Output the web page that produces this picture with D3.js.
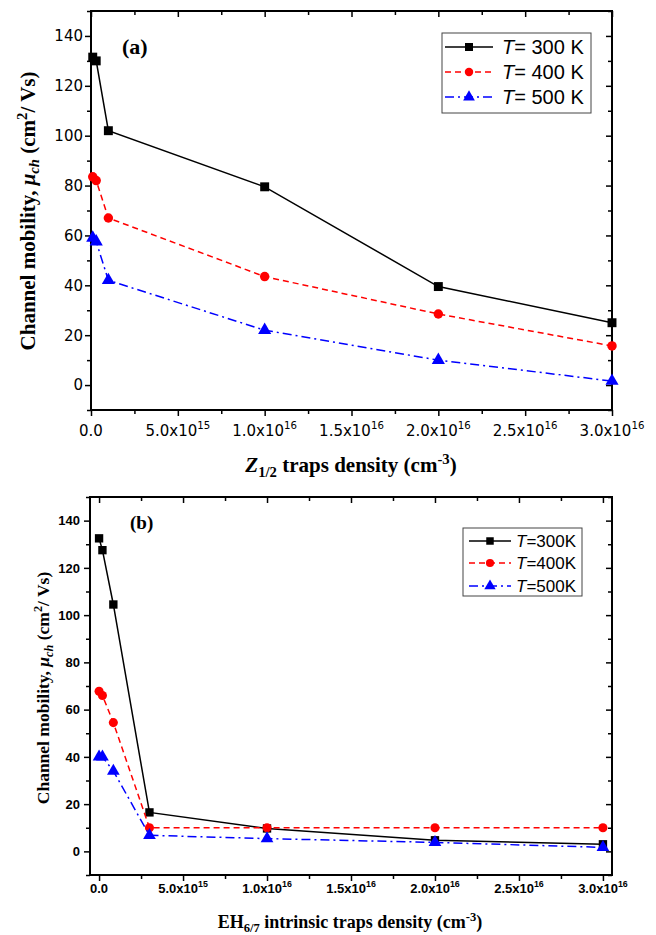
<!DOCTYPE html>
<html>
<head>
<meta charset="utf-8">
<script src="https://cdn.jsdelivr.net/npm/d3@7"></script>
<style>
  body { margin: 0; background: #fff; }
</style>
</head>
<body>
<svg id="fig" width="656" height="935"></svg>
<script>
// panel (a) : Z1/2 traps density
var xA = [1e14, 3e14, 1e15, 1e16, 2e16, 3e16];
var a300 = [131.5, 130, 102, 79.5, 39.5, 25];
var a400 = [83.5, 82, 67, 43.5, 28.5, 15.7];
var a500 = [59, 57.5, 42, 22, 10, 1.6];

// panel (b) : EH6/7 intrinsic traps density
var xB = [0, 2e14, 8.5e14, 3e15, 1e16, 2e16, 3e16];
var b300 = [132.5, 127.5, 104.5, 16.5, 9.7, 4.7, 3];
var b400 = [67.8, 66, 54.5, 10, 10, 10, 10];
var b500 = [40, 40, 34, 6.8, 5.4, 3.8, 1.7];

var xTicks = [0, 5e15, 1e16, 1.5e16, 2e16, 2.5e16, 3e16];
var yTicks = [0, 20, 40, 60, 80, 100, 120, 140];
var legendA = ["= 300 K", "= 400 K", "= 500 K"];
var legendB = ["=300K", "=400K", "=500K"];

var colors = ["#000", "#f00", "#00f"];
var symbols = [d3.symbolSquare, d3.symbolCircle, d3.symbolTriangle];
var dashes = [null, "6,4", "9,4,2,4"];

var svg = d3.select("#fig");

function drawPanel(p) {
    var x = d3.scaleLinear().domain(p.xDomain).range([p.left, p.right]);
    var y = d3.scaleLinear().domain([-10, 150]).range([p.bottom, p.top]);
    var g = svg.append("g");

    // minor ticks are midpoints of the majors
    var minorX = xTicks.slice(1).map((v, i) => (v + xTicks[i]) / 2);
    var minorY = [-10].concat(yTicks.map(v => v + 10));

    function tickAxis(axis, tr, vals, size) {
        var a = g.append("g")
            .attr("transform", tr)
            .call(axis.tickValues(vals).tickSize(size).tickFormat(""));
        a.select(".domain").remove();
        a.selectAll("line").attr("stroke-width", 1.5);
    }
    tickAxis(d3.axisBottom(x), `translate(0,${p.bottom})`, xTicks, 6);
    tickAxis(d3.axisBottom(x), `translate(0,${p.bottom})`, minorX, 4);
    tickAxis(d3.axisTop(x), `translate(0,${p.top})`, xTicks, -6);
    tickAxis(d3.axisTop(x), `translate(0,${p.top})`, minorX, -4);
    tickAxis(d3.axisLeft(y), `translate(${p.left},0)`, yTicks, 6);
    tickAxis(d3.axisLeft(y), `translate(${p.left},0)`, minorY, 4);
    tickAxis(d3.axisRight(y), `translate(${p.right},0)`, yTicks, -6);
    tickAxis(d3.axisRight(y), `translate(${p.right},0)`, minorY, -4);

    // frame
    g.append("rect")
        .attr("x", p.left).attr("y", p.top)
        .attr("width", p.right - p.left).attr("height", p.bottom - p.top)
        .attr("fill", "none").attr("stroke", "#000").attr("stroke-width", 2);

    // y tick labels
    g.selectAll(".ylab").data(yTicks).enter().append("text")
        .attr("x", p.left - p.yLabPad)
        .attr("y", d => y(d))
        .attr("dy", "0.36em")
        .attr("text-anchor", "end")
        .attr("font-family", p.tickFont).attr("font-size", p.tickSize)
        .attr("font-weight", p.tickWeight)
        .text(d => d);

    // x tick labels with superscript exponents
    xTicks.forEach(function (v) {
        var t = g.append("text")
            .attr("x", x(v)).attr("y", p.xLabY)
            .attr("text-anchor", "middle")
            .attr("font-family", p.tickFont).attr("font-size", p.tickSize)
            .attr("font-weight", p.tickWeight);
        if (v === 0) { t.text("0.0"); return; }
        var e = Math.floor(Math.log10(v));
        var m = (v / Math.pow(10, e)).toFixed(1);
        t.append("tspan").text(m + "x10");
        t.append("tspan").attr("dy", -p.tickSize * 0.45)
            .attr("font-size", p.tickSize * 0.68).text(e);
    });

    // series
    p.series.forEach(function (s, i) {
        var pts = p.xs.map((xv, j) => [xv, s[j]]);
        g.append("path")
            .datum(pts)
            .attr("d", d3.line().x(d => x(d[0])).y(d => y(d[1])))
            .attr("fill", "none")
            .attr("stroke", colors[i])
            .attr("stroke-width", 1.5)
            .attr("stroke-dasharray", dashes[i]);
        g.selectAll(".m" + i).data(pts).enter().append("path")
            .attr("transform", d => `translate(${x(d[0])},${y(d[1])})`)
            .attr("d", d3.symbol().type(symbols[i]).size(p.markSize[i]))
            .attr("fill", colors[i]);
    });

    // legend
    var L = p.legend;
    g.append("rect")
        .attr("x", L.x).attr("y", L.y).attr("width", L.w).attr("height", L.h)
        .attr("fill", "#fff").attr("stroke", "#444").attr("stroke-width", 1);
    L.labels.forEach(function (lab, i) {
        var ry = L.rows[i];
        g.append("line")
            .attr("x1", L.x1).attr("x2", L.x2).attr("y1", ry).attr("y2", ry)
            .attr("stroke", colors[i]).attr("stroke-width", 1.5)
            .attr("stroke-dasharray", dashes[i]);
        g.append("path")
            .attr("transform", `translate(${(L.x1 + L.x2) / 2},${ry})`)
            .attr("d", d3.symbol().type(symbols[i]).size(p.markSize[i] * 0.8))
            .attr("fill", colors[i]);
        var t = g.append("text")
            .attr("x", L.tx).attr("y", ry).attr("dy", "0.36em")
            .attr("font-family", "Liberation Sans, Arial, sans-serif")
            .attr("font-size", L.fs);
        t.append("tspan").attr("font-style", "italic").text("T");
        t.append("tspan").text(lab);
    });

    // panel letter
    g.append("text")
        .attr("x", p.letter.x).attr("y", p.letter.y)
        .attr("font-family", "Liberation Serif, Times New Roman, serif")
        .attr("font-weight", "bold").attr("font-size", p.letter.fs)
        .text(p.letter.t);

    // y axis title
    var yt = g.append("text")
        .attr("transform", `translate(${p.yTitle.x},${p.yTitle.y}) rotate(-90)`)
        .attr("text-anchor", "middle")
        .attr("font-family", "Liberation Serif, Times New Roman, serif")
        .attr("font-weight", "bold").attr("font-size", p.yTitle.fs);
    var fs = p.yTitle.fs;
    yt.append("tspan").text("Channel mobility, ");
    yt.append("tspan").attr("font-style", "italic").text("\u03bc");
    yt.append("tspan").attr("font-style", "italic").attr("font-size", fs * 0.7)
        .attr("dy", fs * 0.2).text("ch");
    yt.append("tspan").attr("dy", -fs * 0.2).text(" (cm");
    yt.append("tspan").attr("font-size", fs * 0.7).attr("dy", -fs * 0.4).text("2");
    yt.append("tspan").attr("dy", fs * 0.4).text("/ Vs)");

    // x axis title
    var xt = g.append("text")
        .attr("x", p.xTitle.x).attr("y", p.xTitle.y)
        .attr("text-anchor", "middle")
        .attr("font-family", "Liberation Serif, Times New Roman, serif")
        .attr("font-weight", "bold").attr("font-size", p.xTitle.fs);
    var f2 = p.xTitle.fs;
    xt.append("tspan").attr("font-style", p.xTitle.italic ? "italic" : null).text(p.xTitle.main);
    xt.append("tspan").attr("font-size", f2 * 0.7).attr("dy", f2 * 0.22).text(p.xTitle.sub);
    xt.append("tspan").attr("dy", -f2 * 0.22).text(p.xTitle.rest);
    xt.append("tspan").attr("font-size", f2 * 0.7).attr("dy", -f2 * 0.4).text("-3");
    xt.append("tspan").attr("dy", f2 * 0.4).text(")");
}

drawPanel({
    left: 91, right: 612, top: 11, bottom: 410,
    xDomain: [0, 3e16], xs: xA, series: [a300, a400, a500],
    tickFont: "DejaVu Sans, sans-serif", tickSize: 15, tickWeight: "normal",
    yLabPad: 8, xLabY: 436,
    markSize: [80, 70, 75],
    legend: { x: 442, y: 33, w: 149, h: 80, rows: [47, 72, 97], x1: 445, x2: 493, tx: 502, fs: 20, labels: legendA },
    letter: { x: 122, y: 54, fs: 22, t: "(a)" },
    yTitle: { x: 35, y: 211, fs: 21 },
    xTitle: { x: 351, y: 472, fs: 21, main: "Z", italic: true, sub: "1/2", rest: " traps density (cm" }
});

drawPanel({
    left: 90, right: 612, top: 497, bottom: 875,
    xDomain: [-5.4e14, 3.054e16], xs: xB, series: [b300, b400, b500],
    tickFont: "Liberation Sans, Arial, sans-serif", tickSize: 13, tickWeight: "bold",
    yLabPad: 10, xLabY: 893,
    markSize: [70, 65, 70],
    legend: { x: 463, y: 528, w: 119, h: 68, rows: [541, 563, 586], x1: 469, x2: 511, tx: 516, fs: 17, labels: legendB },
    letter: { x: 130, y: 529, fs: 19, t: "(b)" },
    yTitle: { x: 49, y: 688, fs: 17.5 },
    xTitle: { x: 350, y: 928, fs: 18, main: "EH", italic: false, sub: "6/7", rest: " intrinsic traps density (cm" }
});
</script>
</body>
</html>
